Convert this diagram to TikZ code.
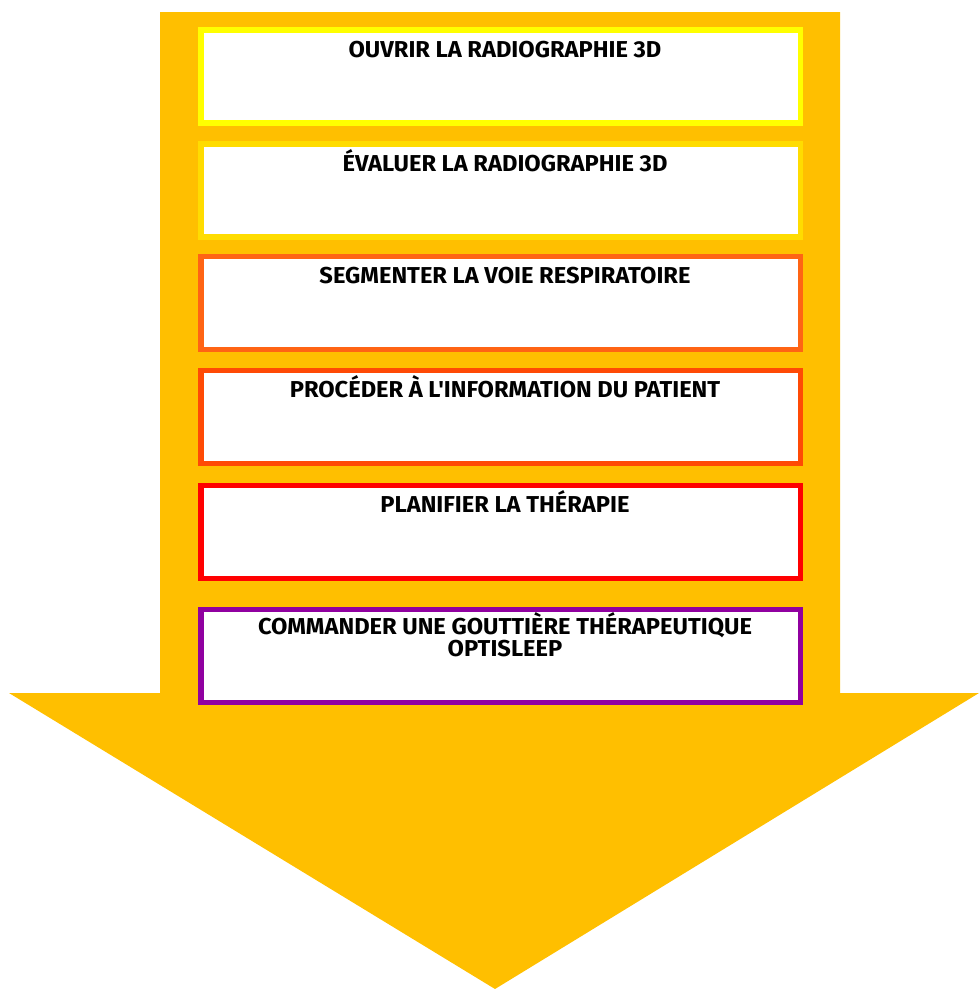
\documentclass[tikz,border=0pt]{standalone}
\usepackage{fontspec}
\newfontfamily\stepfont[FakeStretch=1.03]{Fira Sans}
\usetikzlibrary{calc}
\definecolor{arrowgold}{HTML}{FFBF00}
\definecolor{c1}{HTML}{FFFF00}
\definecolor{c2}{HTML}{FFDC00}
\definecolor{c3}{HTML}{FF6414}
\definecolor{c4}{HTML}{FF4A05}
\definecolor{c5}{HTML}{FF0000}
\definecolor{c6}{HTML}{9000A0}
\tikzset{
  stepbox/.style={draw=#1, fill=white, line width=5.5pt, minimum width=599.5pt, minimum height=93pt, inner sep=0pt, outer sep=0pt},
  steptext/.style={font=\stepfont\fontsize{23}{22}\selectfont\bfseries, align=center, inner sep=0pt, anchor=base}
}
\begin{document}
\begin{tikzpicture}[x=1pt,y=-1pt]
\useasboundingbox (0,0) rectangle (979,989);
\fill[arrowgold] (160,12) -- (840,12) -- (840,693) -- (979,693) -- (495,989) -- (9,693) -- (160,693) -- cycle;
\node[stepbox=c1] (b1) at (500.5,76.5) {};
\node[stepbox=c2] (b2) at (500.5,190.5) {};
\node[stepbox=c3] (b3) at (500.5,303) {};
\node[stepbox=c4] (b4) at (500.5,417) {};
\node[stepbox=c5] (b5) at (500.5,532) {};
\node[stepbox=c6] (b6) at (500.5,656) {};
\node[steptext] (t1) at ($(b1.north)+(4.5,27)$) {OUVRIR LA RADIOGRAPHIE 3D};
\node[steptext] (t2) at ($(b2.north)+(4.5,27)$) {ÉVALUER LA RADIOGRAPHIE 3D};
\node[steptext] (t3) at ($(b3.north)+(4.5,27)$) {SEGMENTER LA VOIE RESPIRATOIRE};
\node[steptext] (t4) at ($(b4.north)+(4.5,27)$) {PROCÉDER À L'INFORMATION DU PATIENT};
\node[steptext] (t5) at ($(b5.north)+(4.5,27)$) {PLANIFIER LA THÉRAPIE};
\node[steptext] (t6) at ($(b6.north)+(4.5,46.5)$) {COMMANDER UNE GOUTTIÈRE THÉRAPEUTIQUE\\OPTISLEEP};
\end{tikzpicture}
\end{document}
